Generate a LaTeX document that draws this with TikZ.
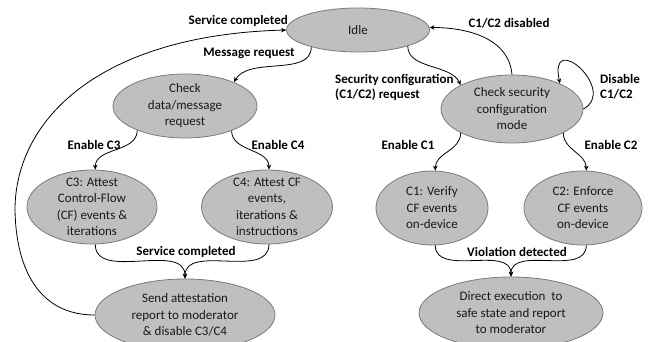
\documentclass[tikz,border=0pt]{standalone}
\usepackage{fontspec}
\setmainfont{Carlito}
\usetikzlibrary{shapes.geometric,arrows.meta}
\definecolor{statefill}{HTML}{BFBFBF}
\definecolor{statedraw}{HTML}{7A7A7A}
\tikzset{
  state/.style={ellipse, draw=statedraw, fill=statefill, line width=0.8pt, inner sep=0pt},
  txt/.style={font=\fontsize{13}{16.5}\selectfont, align=center, text=black!90, inner sep=0pt},
  lbl/.style={font=\bfseries\fontsize{13}{15}\selectfont, inner sep=0pt, text=black},
  arr/.style={-{Stealth[length=5pt,width=4.5pt]}, line width=0.8pt, black},
}
\begin{document}
\begin{tikzpicture}[x=1pt,y=-1pt]
\useasboundingbox (0,0) rectangle (649,342);

% states
\node[state, minimum width=143pt, minimum height=44pt,
      label={[txt]center:Idle}] (idle) at (358,30) {};
\node[state, minimum width=144pt, minimum height=64pt,
      label={[txt]center:Check\\data/message\\request}] (check) at (185,106) {};
\node[state, minimum width=142pt, minimum height=68pt,
      label={[txt]center:Check security\\configuration\\mode}] (sec) at (512,109) {};
\node[state, minimum width=130pt, minimum height=74pt,
      label={[txt]center:C3: Attest\\Control-Flow\\(CF) events \&\\iterations}] (c3) at (92,207) {};
\node[state, minimum width=131pt, minimum height=74pt,
      label={[txt]center:C4: Attest CF\\events,\\iterations \&\\instructions}] (c4) at (267,207) {};
\node[state, minimum width=112pt, minimum height=74pt,
      label={[txt]center:C1: Verify\\CF events\\on-device}] (c1) at (432,208) {};
\node[state, minimum width=118pt, minimum height=74pt,
      label={[txt]center:C2: Enforce\\CF events\\on-device}] (c2) at (583,208) {};
\node[state, minimum width=180pt, minimum height=72pt,
      label={[txt]center:Send attestation\\report to moderator\\\& disable C3/C4}] (send) at (185,315) {};
\node[state, minimum width=184pt, minimum height=72pt,
      label={[txt]center:Direct execution\ \ to\\safe state and report\\to moderator}] (direct) at (511,313) {};

% waypoint of the long return path
\coordinate (loopw) at (15,210);

% transitions
\draw[arr] (idle.-160) to[out=-90, in=60, looseness=0.9] (check.26);
\draw[arr] (idle.-18) to[out=-90, in=115, looseness=0.9] (sec.155);
\draw[arr] (sec.90) to[out=95, in=0, looseness=1.0] (idle.2);
\draw[arr] (sec.0) .. controls +(35,-19) and +(-12,-55) .. (sec.28);
\draw[arr] (check.207) to[out=-90, in=90] (c3.85);
\draw[arr] (check.-28) to[out=-90, in=90] (c4.87);
\draw[arr] (sec.-155) to[out=-90, in=90] (c1.85);
\draw[arr] (sec.-25) to[out=-90, in=90] (c2.85);
\draw[arr] (c3.-85) to[out=-90, in=90] (send.90);
\draw[arr] (c4.-87) to[out=-90, in=90] (send.90);
\draw[arr] (c1.-85) to[out=-90, in=90] (direct.90);
\draw[arr] (c2.-85) to[out=-90, in=90] (direct.90);
\draw[arr] (send.180) .. controls +(-55,0) and +(1,60) .. (loopw)
  .. controls +(0,-90) and +(-187,5) .. (idle.180);

% transition labels
\node[lbl, anchor=east] (lsvc1) at (288,21) {Service completed};
\node[lbl] (lmsg) at (249,53) {Message request};
\node[lbl, anchor=west, align=left] (lsecreq) at (335,87) {Security configuration\\(C1/C2) request};
\node[lbl] (ldis) at (509,23) {C1/C2 disabled};
\node[lbl, anchor=west, align=left] (ldisable) at (600,87) {Disable\\C1/C2};
\node[lbl] (len3) at (94,145) {Enable C3};
\node[lbl] (len4) at (278,145) {Enable C4};
\node[lbl] (len1) at (408,145) {Enable C1};
\node[lbl] (len2) at (611,145) {Enable C2};
\node[lbl] (lsvc2) at (186,252) {Service completed};
\node[lbl] (lviol) at (517,252) {Violation detected};
\end{tikzpicture}
\end{document}
